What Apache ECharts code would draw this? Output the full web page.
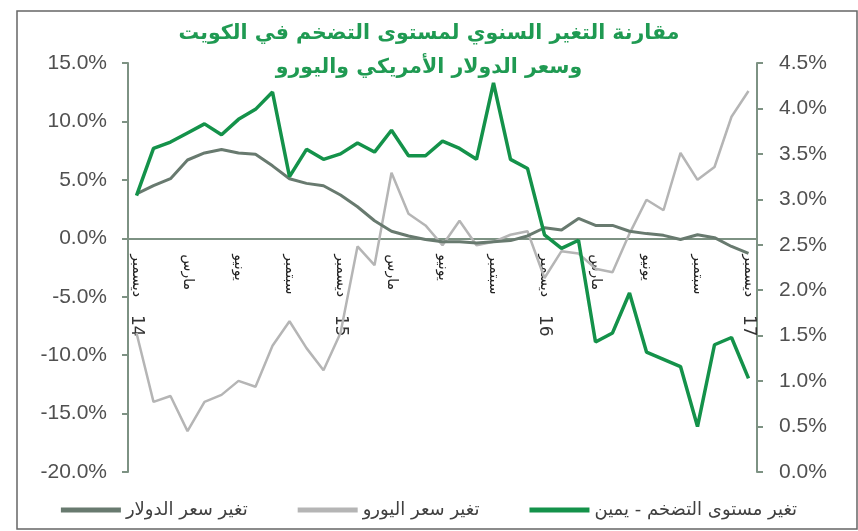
<!DOCTYPE html>
<html>
<head>
<meta charset="utf-8">
<script src="https://cdn.jsdelivr.net/npm/echarts@6/dist/echarts.min.js"></script>
<style>
  html, body { margin: 0; padding: 0; background: #fff; }
  #main { width: 858px; height: 531px; }
</style>
</head>
<body>
<div id="main"></div>
<script>
/* months Dec 2014 .. Dec 2017 */
const monthNames = ['ديسمبر', 'يناير', 'فبراير', 'مارس', 'أبريل', 'مايو', 'يونيو', 'يوليو', 'أغسطس', 'سبتمبر', 'أكتوبر', 'نوفمبر'];
const yearLabels = ['14', '15', '16', '17'];
const categories = [];
for (let i = 0; i < 37; i++) categories.push(monthNames[i % 12]);

// تغير سعر الدولار (left axis, %)
const dollar = [3.8, 4.5, 5.1, 6.7, 7.3, 7.6, 7.3, 7.2, 6.2, 5.1, 4.7, 4.5, 3.7, 2.7, 1.5, 0.6, 0.2, -0.1, -0.3, -0.3,
  -0.4, -0.3, -0.2, 0.2, 0.9, 0.7, 1.7, 1.1, 1.1, 0.6, 0.4, 0.25, -0.1, 0.3, 0.05, -0.7, -1.3];
// تغير سعر اليورو (left axis, %)
const euro = [-8.1, -14.0, -13.5, -16.5, -14.0, -13.4, -12.2, -12.7, -9.2, -7.1, -9.4, -11.3, -8.1, -0.7, -2.3, 5.6, 2.1, 1.1, -0.6, 1.5,
  -0.6, -0.3, 0.3, 0.6, -3.4, -1.1, -1.3, -2.6, -2.9, 0.4, 3.3, 2.4, 7.3, 5.0, 6.1, 10.4, 12.6];
// تغير مستوى التضخم - يمين (right axis, %)
const inflation = [3.04, 3.56, 3.63, 3.73, 3.83, 3.71, 3.88, 3.99, 4.18, 3.25, 3.55, 3.44, 3.50, 3.62, 3.52, 3.76, 3.48, 3.48, 3.64, 3.56,
  3.44, 4.28, 3.44, 3.34, 2.61, 2.46, 2.55, 1.43, 1.53, 1.97, 1.32, 1.24, 1.16, 0.50, 1.40, 1.48, 1.03];

const seriesNames = ['تغير سعر الدولار', 'تغير سعر اليورو', 'تغير مستوى التضخم - يمين'];

const arFont = 'DejaVu Sans';
const numFont = 'Liberation Sans';
const axisColor = '#7d9283';

// grid geometry; the category axis sits on the 0% line of the left axis
const gridTop = 63, gridBottom = 59;
const plotH = 531 - gridTop - gridBottom;
const leftMin = -20, leftMax = 15;
const zeroOffset = -plotH * (0 - leftMin) / (leftMax - leftMin);

const chart = echarts.init(document.getElementById('main'));
chart.setOption({
  backgroundColor: '#fff',
  animation: false,
  title: {
    text: 'مقارنة التغير السنوي لمستوى التضخم في الكويت\nوسعر الدولار الأمريكي واليورو',
    left: 'center',
    top: 12,
    textStyle: { color: '#1f9a52', fontFamily: arFont, fontWeight: 'bold', fontSize: 20.5, lineHeight: 34 }
  },
  legend: {
    data: seriesNames,
    bottom: 7,
    left: 'center',
    icon: 'rect',
    itemWidth: 60,
    itemHeight: 5,
    itemGap: 50,
    textStyle: { fontFamily: arFont, fontSize: 18, color: '#404040' }
  },
  grid: { left: 128, right: 101, top: gridTop, bottom: gridBottom, outerBoundsMode: 'none' },
  graphic: [{
    type: 'rect',
    shape: { x: 17, y: 11, width: 840, height: 518 },
    style: { fill: 'none', stroke: '#666', lineWidth: 1.5 },
    silent: true
  }],
  xAxis: {
    type: 'category',
    data: categories,
    boundaryGap: true,
    position: 'bottom',
    offset: zeroOffset,
    axisLine: { onZero: false, lineStyle: { color: axisColor, width: 2 } },
    axisTick: { interval: 2, length: 5, lineStyle: { color: axisColor, width: 2 } },
    axisLabel: {
      interval: 2,
      rotate: -90,
      margin: 16,
      fontFamily: arFont,
      fontSize: 14,
      color: '#222',
      formatter: function (v, i) {
        if (i % 12 === 0) return '{m|' + v + '}{y|' + yearLabels[i / 12] + '}';
        return '{m|' + v + '}';
      },
      rich: {
        m: { fontFamily: arFont, fontSize: 14, color: '#222' },
        y: { fontFamily: arFont, fontSize: 17, color: '#333', padding: [0, 0, 0, 18] }
      }
    }
  },
  yAxis: [{
    type: 'value',
    min: leftMin, max: leftMax, interval: 5,
    splitLine: { show: false },
    axisLine: { show: true, lineStyle: { color: axisColor, width: 2 } },
    axisTick: { show: true, length: 6, lineStyle: { color: axisColor, width: 2 } },
    axisLabel: { margin: 21, fontFamily: numFont, fontSize: 21, color: '#505050',
      formatter: v => v.toFixed(1) + '%' }
  }, {
    type: 'value',
    min: 0, max: 4.5, interval: 0.5,
    splitLine: { show: false },
    axisLine: { show: true, lineStyle: { color: axisColor, width: 2 } },
    axisTick: { show: true, length: 6, lineStyle: { color: axisColor, width: 2 } },
    axisLabel: { margin: 22, fontFamily: numFont, fontSize: 21, color: '#505050',
      formatter: v => v.toFixed(1) + '%' }
  }],
  series: [{
    name: seriesNames[1], type: 'line', yAxisIndex: 0, data: euro,
    symbol: 'none', lineStyle: { color: '#b5b5b5', width: 2.5 }, itemStyle: { color: '#b5b5b5' }
  }, {
    name: seriesNames[0], type: 'line', yAxisIndex: 0, data: dollar,
    symbol: 'none', lineStyle: { color: '#687a6f', width: 3 }, itemStyle: { color: '#687a6f' }
  }, {
    name: seriesNames[2], type: 'line', yAxisIndex: 1, data: inflation,
    symbol: 'none', lineStyle: { color: '#14924a', width: 3.5 }, itemStyle: { color: '#14924a' }
  }]
});
</script>
</body>
</html>
